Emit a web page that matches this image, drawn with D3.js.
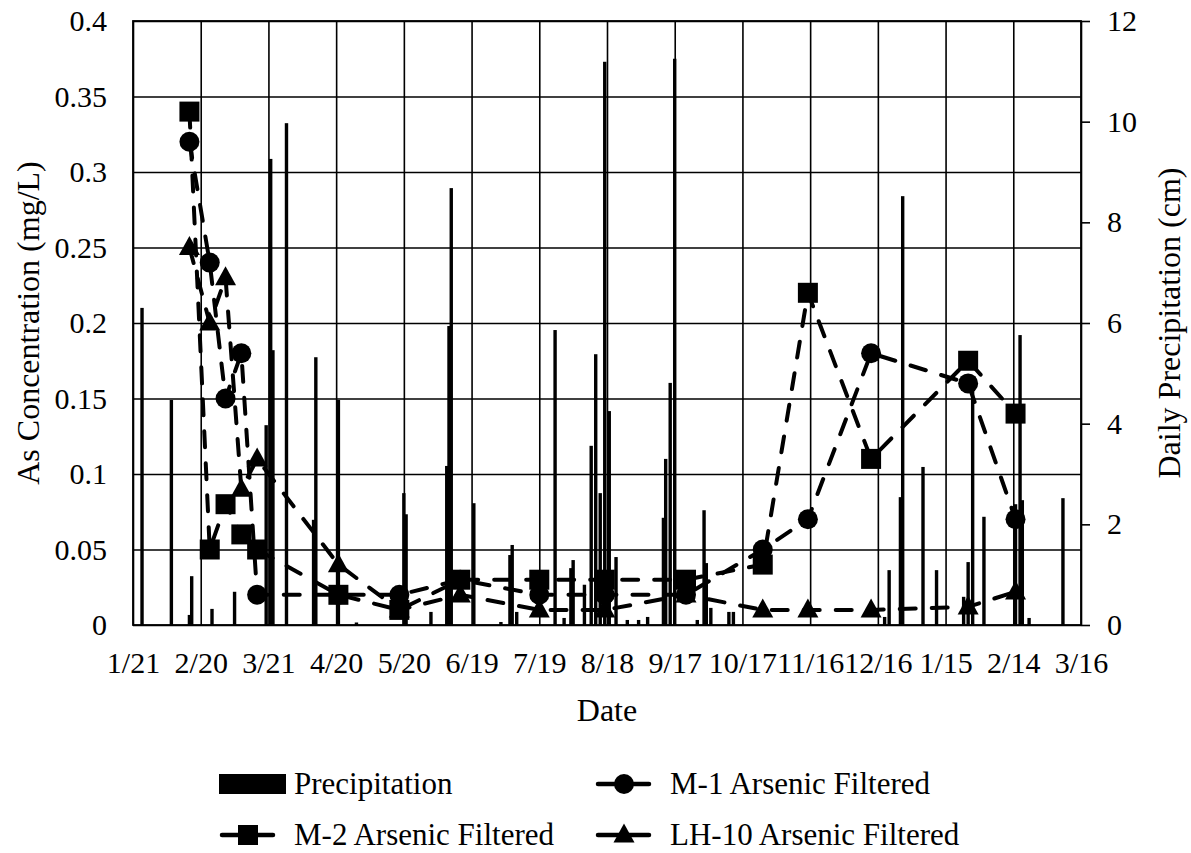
<!DOCTYPE html>
<html><head><meta charset="utf-8">
<script src="https://cdn.jsdelivr.net/npm/d3@7"></script>
<style>
body{margin:0;background:#fff}
svg{display:block}
text{font-family:"Liberation Serif","Times New Roman",serif;fill:#000}
</style>
</head><body>
<svg id="c" width="1191" height="853"></svg>
<script>
const xTickDates = ["2008-01-21","2008-02-20","2008-03-21","2008-04-20","2008-05-20","2008-06-19","2008-07-19","2008-08-18","2008-09-17","2008-10-17","2008-11-16","2008-12-16","2009-01-15","2009-02-14","2009-03-16"];
const leftTicks = [0,0.05,0.1,0.15,0.2,0.25,0.3,0.35,0.4];
const leftTickLabels = ["0","0.05","0.1","0.15","0.2","0.25","0.3","0.35","0.4"];
const rightTicks = [0,2,4,6,8,10,12];

const sampleDates = ["2008-02-15","2008-02-24","2008-03-02","2008-03-09","2008-03-16","2008-04-21","2008-05-18","2008-06-14","2008-07-19","2008-08-17","2008-09-22","2008-10-26","2008-11-15","2008-12-13","2009-01-25","2009-02-15"];
const m1Values   = [0.32,0.24,0.15,0.18,0.02,0.02,0.02,0.03,0.02,0.02,0.02,0.05,0.07,0.18,0.16,0.07];
const m2Values   = [0.34,0.05,0.08,0.06,0.05,0.02,0.01,0.03,0.03,0.03,0.03,0.04,0.22,0.11,0.175,0.14];
const lh10Values = [0.25,0.20,0.23,0.09,0.11,0.04,0.01,0.02,0.01,0.01,0.02,0.01,0.01,0.01,0.012,0.022];

const precipDates = ["2008-01-25","2008-02-07","2008-02-15","2008-02-16","2008-02-25","2008-03-06","2008-03-20","2008-03-22","2008-03-23","2008-03-29","2008-04-10","2008-04-11","2008-04-21","2008-04-29","2008-05-20","2008-05-21","2008-06-01","2008-06-08","2008-06-09","2008-06-10","2008-06-20","2008-07-02","2008-07-06","2008-07-07","2008-07-09","2008-07-26","2008-07-30","2008-08-02","2008-08-03","2008-08-08","2008-08-11","2008-08-13","2008-08-15","2008-08-17","2008-08-19","2008-08-22","2008-08-27","2008-09-01","2008-09-05","2008-09-12","2008-09-13","2008-09-15","2008-09-17","2008-09-27","2008-09-30","2008-10-01","2008-10-03","2008-10-11","2008-10-13","2008-12-19","2008-12-21","2008-12-26","2008-12-27","2009-01-05","2009-01-11","2009-01-23","2009-01-25","2009-01-27","2009-02-01","2009-02-15","2009-02-17","2009-02-18","2009-02-21","2009-03-08"];
const precipValues = [6.3,4.47,0.2,0.97,0.32,0.66,3.97,9.26,5.46,9.97,2.09,5.32,4.47,0.05,2.62,2.2,0.26,3.16,5.94,8.68,2.42,0.06,1.39,1.59,0.26,5.86,0.14,1.13,1.29,0.8,3.56,5.38,2.62,11.19,4.25,1.35,0.1,0.1,0.16,2.13,3.3,4.81,11.25,0.1,2.28,1.23,0.34,0.26,0.26,0.16,1.09,2.54,8.52,3.14,1.09,0.56,1.25,4.85,2.15,2.4,5.76,2.48,0.14,2.52];

const parse = d3.utcParse("%Y-%m-%d");
const fmt = d3.utcFormat("%-m/%-d");
const L = 133, R = 1081, T = 21, B = 625;
const svg = d3.select("#c");
const x = d3.scaleUtc().domain([parse(xTickDates[0]), parse(xTickDates[xTickDates.length-1])]).range([L, R]);
const yL = d3.scaleLinear().domain([0, 0.4]).range([B, T]);
const yR = d3.scaleLinear().domain([0, 12]).range([B, T]);
const tickFont = 30;

// vertical gridlines + x labels
const gx = svg.append("g").attr("transform", `translate(0,${B})`)
  .call(d3.axisBottom(x).tickValues(xTickDates.map(parse)).tickFormat(fmt).tickSize(-(B-T)).tickPadding(27));
gx.select(".domain").remove();
gx.selectAll(".tick line").attr("stroke", "#000").attr("stroke-width", 1.6);
gx.selectAll("text").attr("font-size", tickFont);

// horizontal gridlines + left labels
const gy = svg.append("g").attr("transform", `translate(${L},0)`)
  .call(d3.axisLeft(yL).tickValues(leftTicks).tickFormat((d, i) => leftTickLabels[i]).tickSize(-(R-L)).tickPadding(26));
gy.select(".domain").remove();
gy.selectAll(".tick line").attr("stroke", "#000").attr("stroke-width", 1.6);
gy.selectAll("text").attr("font-size", tickFont);

// right axis
const gr = svg.append("g").attr("transform", `translate(${R},0)`)
  .call(d3.axisRight(yR).tickValues(rightTicks).tickSize(9).tickPadding(17));
gr.select(".domain").remove();
gr.selectAll(".tick line").attr("stroke", "#000").attr("stroke-width", 1.6);
gr.selectAll("text").attr("font-size", tickFont);

// border
svg.append("rect").attr("x", L).attr("y", T).attr("width", R-L).attr("height", B-T)
  .attr("fill", "none").attr("stroke", "#000").attr("stroke-width", 1.8);

// precipitation bars
const bw = 3.4;
svg.append("g").selectAll("rect").data(precipDates.map((d, i) => ({d: parse(d), v: precipValues[i]})))
  .join("rect")
  .attr("x", d => x(d.d) - bw/2).attr("width", bw)
  .attr("y", d => yR(d.v)).attr("height", d => B - yR(d.v))
  .attr("fill", "#000");

// series
const line = d3.line().x(d => x(d.d)).y(d => yL(d.v));
function triPath(cx, cy, w, h) {
  return `M${cx},${cy - h*0.6}L${cx + w/2},${cy + h*0.4}L${cx - w/2},${cy + h*0.4}Z`;
}
function drawMarker(g, type, cx, cy, s) {
  if (type === "circle") g.append("circle").attr("cx", cx).attr("cy", cy).attr("r", s/2).attr("fill", "#000");
  else if (type === "square") g.append("rect").attr("x", cx - s/2).attr("y", cy - s/2).attr("width", s).attr("height", s).attr("fill", "#000");
  else g.append("path").attr("d", triPath(cx, cy, s * 1.05, s * 0.95)).attr("fill", "#000");
}
const series = [
  {vals: m1Values, type: "circle"},
  {vals: m2Values, type: "square"},
  {vals: lh10Values, type: "triangle"}
];
series.forEach(s => {
  const data = sampleDates.map((d, i) => ({d: parse(d), v: s.vals[i]}));
  const g = svg.append("g");
  g.append("path").datum(data).attr("d", line)
    .attr("fill", "none").attr("stroke", "#000").attr("stroke-width", 4)
    .attr("stroke-dasharray", "16,16").attr("stroke-linecap", "round");
  data.forEach(p => drawMarker(g, s.type, x(p.d), yL(p.v), 20));
});

// titles
svg.append("text").attr("transform", `translate(39,${(T+B)/2}) rotate(-90)`)
  .attr("text-anchor", "middle").attr("font-size", 32).text("As Concentration (mg/L)");
svg.append("text").attr("transform", `translate(1180,${(T+B)/2}) rotate(-90)`)
  .attr("text-anchor", "middle").attr("font-size", 32).text("Daily Precipitation (cm)");
svg.append("text").attr("x", (L+R)/2).attr("y", 721)
  .attr("text-anchor", "middle").attr("font-size", 32).text("Date");

// legend
const legendItems = [
  {label: "Precipitation", type: "bar", x: 219, y: 784},
  {label: "M-1 Arsenic Filtered", type: "circle", x: 595, y: 784},
  {label: "M-2 Arsenic Filtered", type: "square", x: 219, y: 835},
  {label: "LH-10 Arsenic Filtered", type: "triangle", x: 595, y: 835}
];
legendItems.forEach(it => {
  const g = svg.append("g").attr("transform", `translate(${it.x},${it.y})`);
  if (it.type === "bar") {
    g.append("rect").attr("x", 0).attr("y", -10).attr("width", 67).attr("height", 20).attr("fill", "#000");
  } else {
    g.append("line").attr("x1", 3).attr("x2", 54).attr("y1", 0).attr("y2", 0)
      .attr("stroke", "#000").attr("stroke-width", 4.5).attr("stroke-linecap", "round");
    drawMarker(g, it.type, 29, 0, 20);
  }
  g.append("text").attr("x", 75).attr("y", 10)
    .attr("font-size", 31).text(it.label);
});
</script>
</body></html>
